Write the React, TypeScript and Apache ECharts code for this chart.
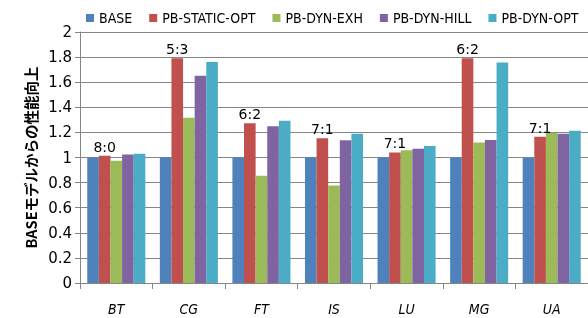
import React, { useEffect, useRef } from "react";
import * as echarts from "echarts";

const categories = ["BT", "CG", "FT", "IS", "LU", "MG", "UA"];
const seriesNames = ["BASE", "PB-STATIC-OPT", "PB-DYN-EXH", "PB-DYN-HILL", "PB-DYN-OPT"];
const base = [1, 1, 1, 1, 1, 1, 1];
const staticOpt = [1.013, 1.79, 1.272, 1.153, 1.04, 1.79, 1.166];
const dynExh = [0.974, 1.316, 0.855, 0.776, 1.058, 1.119, 1.198];
const dynHill = [1.024, 1.651, 1.25, 1.137, 1.069, 1.14, 1.19];
const dynOpt = [1.029, 1.761, 1.292, 1.19, 1.092, 1.756, 1.213];
const ratios = ["8:0", "5:3", "6:2", "7:1", "7:1", "6:2", "7:1"];
const colors = ["#4F81BD", "#C0504D", "#9BBB59", "#8064A2", "#4BACC6"];

export default function App() {
  const ref = useRef<HTMLDivElement>(null);
  useEffect(() => {
    const chart = echarts.init(ref.current!, null, { renderer: "svg" });
    const data = [base, staticOpt, dynExh, dynHill, dynOpt];
    chart.setOption({
      animation: false,
      color: colors,
      textStyle: { fontFamily: "DejaVu Sans" },
      legend: {
        top: 6,
        left: 81,
        itemWidth: 8,
        itemHeight: 8,
        itemGap: 17,
        icon: "rect",
        textStyle: { fontFamily: "DejaVu Sans Condensed", fontSize: 14, color: "#000" },
        data: seriesNames,
      },
      grid: { left: 80, top: 32, width: 513, height: 251 },
      xAxis: {
        type: "category",
        data: categories,
        axisLine: { lineStyle: { color: "#868686", width: 1 } },
        axisTick: { show: true, length: 6, interval: 0, lineStyle: { color: "#868686" } },
        axisLabel: {
          fontFamily: "DejaVu Sans Condensed",
          fontStyle: "italic",
          fontSize: 14,
          color: "#000",
          margin: 19,
        },
      },
      yAxis: {
        type: "value",
        min: 0,
        max: 2,
        interval: 0.2,
        name: "BASEモデルからの性能向上",
        nameLocation: "middle",
        nameGap: 42,
        nameTextStyle: {
          fontFamily: "Noto Sans CJK JP",
          fontWeight: "bold",
          fontSize: 14.5,
          color: "#000",
        },
        axisLine: { show: true, lineStyle: { color: "#868686" } },
        axisTick: { show: true, length: 5, lineStyle: { color: "#868686" } },
        splitLine: { lineStyle: { color: "#868686", width: 1 } },
        axisLabel: { fontSize: 15, color: "#000", margin: 8 },
      },
      series: seriesNames.map((name, i) => ({
        name,
        type: "bar",
        data: data[i],
        barGap: "0%",
        barCategoryGap: "20%",
        label:
          i === 1
            ? {
                show: true,
                position: "top",
                distance: 2,
                color: "#000",
                fontSize: 14,
                formatter: (p: any) => ratios[p.dataIndex],
              }
            : { show: false },
      })),
    });
    return () => chart.dispose();
  }, []);
  return <div ref={ref} style={{ position: "fixed", left: 0, top: 0, width: 588, height: 318 }} />;
}
